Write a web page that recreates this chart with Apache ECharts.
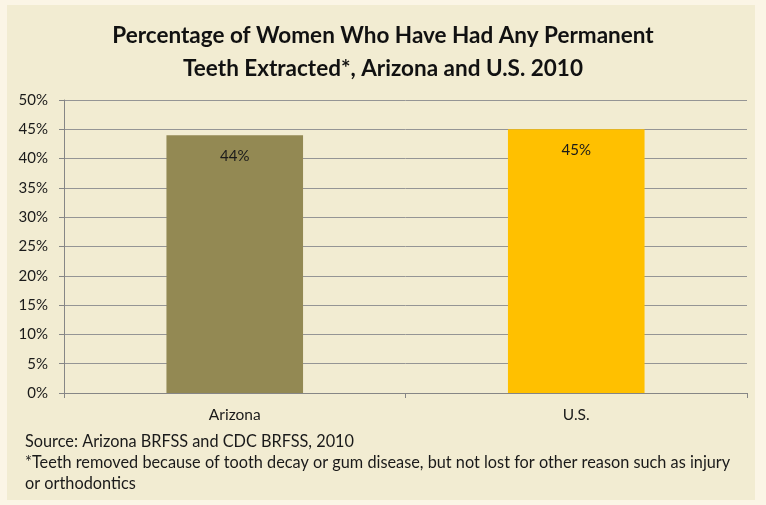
<!DOCTYPE html>
<html>
<head>
<meta charset="utf-8">
<script src="https://cdn.jsdelivr.net/npm/echarts@6/dist/echarts.min.js"></script>
<style>
  html, body { margin: 0; padding: 0; background: #FBF5E6; }
  #chart { width: 766px; height: 505px; }
</style>
</head>
<body>
<div id="chart"></div>
<script>
// Chart data
const categories = ['Arizona', 'U.S.'];
const percentExtracted = [44, 45];
const barColors = ['#938953', '#FFC000'];
const yTicks = { min: 0, max: 50, interval: 5 };

const titleLines = ['Percentage of Women Who Have Had Any Permanent', 'Teeth Extracted*, Arizona and U.S. 2010'];
const sourceLines = [
  'Source: Arizona BRFSS and CDC BRFSS, 2010',
  '*Teeth removed because of tooth decay or gum disease, but not lost for other reason such as injury',
  'or orthodontics'
];

const FONT = 'Lato, "Open Sans", sans-serif';

const chart = echarts.init(document.getElementById('chart'), null, { renderer: 'canvas' });

chart.setOption({
  backgroundColor: '#FBF5E6',
  animation: false,
  graphic: [
    {
      type: 'rect',
      z: -10,
      silent: true,
      shape: { x: 7, y: 5, width: 748, height: 495 },
      style: { fill: '#F2ECD2' }
    },
    {
      type: 'text',
      left: 25,
      top: 431,
      style: {
        text: sourceLines.join('\n'),
        font: '16.3px ' + FONT,
        lineHeight: 21,
        fill: '#1a1a1a'
      }
    }
  ],
  title: {
    text: titleLines.join('\n'),
    left: 'center',
    top: 14,
    textStyle: {
      fontFamily: FONT,
      fontWeight: 'bold',
      fontSize: 22.5,
      lineHeight: 33,
      color: '#111'
    }
  },
  grid: { left: 64, right: 19, top: 100, bottom: 112, containLabel: false },
  xAxis: {
    type: 'category',
    data: categories,
    axisLine: { lineStyle: { color: '#868686', width: 1 } },
    axisTick: { show: true, length: 5, lineStyle: { color: '#868686' } },
    axisLabel: { color: '#1a1a1a', fontFamily: FONT, fontSize: 15.5, margin: 14 }
  },
  yAxis: {
    type: 'value',
    min: yTicks.min,
    max: yTicks.max,
    interval: yTicks.interval,
    axisLine: { show: true, lineStyle: { color: '#868686', width: 1 } },
    axisTick: { show: true, length: 5, lineStyle: { color: '#868686' } },
    axisLabel: { formatter: '{value}%', color: '#1a1a1a', fontFamily: FONT, fontSize: 15, margin: 16 },
    splitLine: { lineStyle: { color: '#959595', width: 1 } }
  },
  series: [{
    type: 'bar',
    data: percentExtracted.map((v, i) => ({ value: v, itemStyle: { color: barColors[i] } })),
    barWidth: '40%',
    label: {
      show: true,
      position: 'insideTop',
      distance: 13,
      formatter: '{c}%',
      color: '#1a1a1a',
      fontFamily: FONT,
      fontSize: 15
    }
  }]
});
</script>
</body>
</html>
